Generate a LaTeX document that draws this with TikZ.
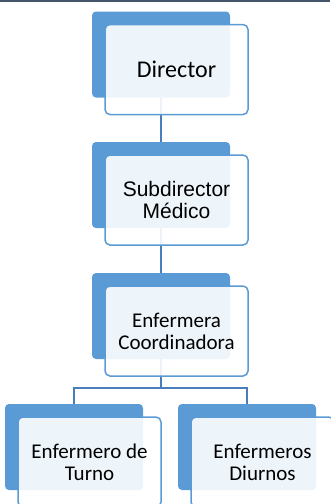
\documentclass[tikz,border=0pt]{standalone}
\usepackage{fontspec}
\setmainfont{Carlito}
\newfontfamily\arialfont{Liberation Sans}
\definecolor{boxblue}{HTML}{5B9BD5}
\definecolor{linkblue}{HTML}{4A7EBB}
\definecolor{topgray}{HTML}{44546A}
\tikzset{
  backbox/.style={fill=boxblue, rounded corners=4pt, minimum width=138pt, minimum height=86pt, inner sep=0pt},
  frontbox/.style={draw=boxblue, line width=1.5pt, fill=white, fill opacity=0.9, text opacity=1, rounded corners=5pt,
    minimum width=143pt, minimum height=90pt, inner sep=0pt, align=center, font=\fontsize{21}{22}\selectfont},
  link/.style={draw=linkblue, line width=2pt}
}
\begin{document}
\begin{tikzpicture}[x=1pt,y=-1pt]
\useasboundingbox (0,0) rectangle (330,504);
\draw[topgray, line width=1.5pt] (0,0.75) -- (330,0.75);
% blue boxes
\node[backbox] (dir) at (161,54.5) {};
\node[backbox] (sub) at (161,185) {};
\node[backbox] (enf) at (161,316) {};
\node[backbox] (turno) at (74,447) {};
\node[backbox] (diur) at (247,447) {};
\coordinate (bar) at (161,388);
% links
\draw[link] (dir.south) -- (sub.north);
\draw[link] (sub.south) -- (enf.north);
\draw[link] (enf.south) -- (bar);
\draw[link] (turno.north) |- (bar) -| (diur.north);
% front boxes
\node[frontbox, font=\fontsize{24}{26}\selectfont] (dirF) at (176.5,69.5) {Director};
\node[frontbox, font=\arialfont\fontsize{21}{22}\selectfont] (subF) at (176.5,200) {Subdirector\\Médico};
\node[frontbox] (enfF) at (176.5,331) {Enfermera\\Coordinadora};
\node[frontbox] (turnoF) at (89.5,462) {Enfermero de\\Turno};
\node[frontbox] (diurF) at (262.5,462) {Enfermeros\\Diurnos};
\end{tikzpicture}
\end{document}
